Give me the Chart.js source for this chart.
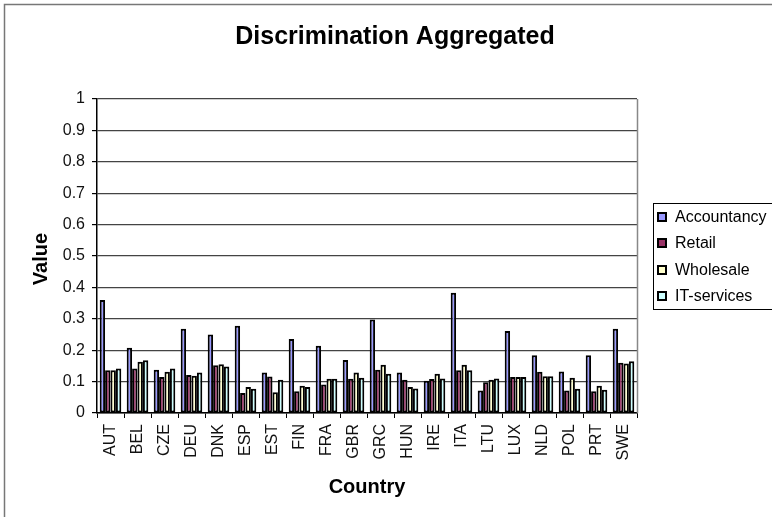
<!DOCTYPE html>
<html>
<head>
<meta charset="utf-8">
<script src="https://cdn.jsdelivr.net/npm/chart.js@4/dist/chart.umd.min.js"></script>
<style>
html,body{margin:0;padding:0;background:#fff;}
#wrap{width:772px;height:517px;position:relative;}
</style>
</head>
<body>
<div id="wrap"><canvas id="c" width="772" height="517"></canvas></div>
<script>
const categories = ["AUT","BEL","CZE","DEU","DNK","ESP","EST","FIN","FRA","GBR","GRC","HUN","IRE","ITA","LTU","LUX","NLD","POL","PRT","SWE"];
const accountancy = [0.360,0.208,0.138,0.268,0.250,0.278,0.129,0.236,0.214,0.169,0.298,0.129,0.103,0.383,0.072,0.261,0.184,0.132,0.184,0.268];
const retail      = [0.136,0.142,0.115,0.121,0.152,0.064,0.116,0.069,0.091,0.109,0.138,0.106,0.108,0.136,0.098,0.115,0.131,0.072,0.069,0.160];
const wholesale   = [0.136,0.163,0.131,0.119,0.155,0.083,0.066,0.087,0.109,0.129,0.154,0.083,0.125,0.154,0.106,0.115,0.117,0.112,0.087,0.158];
const itServices  = [0.142,0.168,0.142,0.129,0.148,0.077,0.106,0.083,0.109,0.112,0.125,0.078,0.110,0.136,0.110,0.115,0.117,0.077,0.074,0.165];
const seriesNames = ["Accountancy","Retail","Wholesale","IT-services"];
const seriesColors = ["#9999FF","#993366","#FFFFCC","#CCFFFF"];
const yTickLabels = ["0","0.1","0.2","0.3","0.4","0.5","0.6","0.7","0.8","0.9","1"];
const titleText = "Discrimination Aggregated";
const xTitle = "Country";
const yTitle = "Value";

const FONT = "'Liberation Sans', Arial, sans-serif";
const seriesData = [accountancy, retail, wholesale, itServices];

const decor = {
  id: 'decor',
  beforeDraw(chart) {
    const ctx = chart.ctx;
    ctx.save();
    ctx.fillStyle = '#fff';
    ctx.fillRect(0, 0, chart.width, chart.height);
    ctx.strokeStyle = '#777';
    ctx.lineWidth = 1.5;
    ctx.beginPath();
    ctx.moveTo(4.5, chart.height + 5);
    ctx.lineTo(4.5, 4.5);
    ctx.lineTo(chart.width + 5, 4.5);
    ctx.stroke();
    ctx.restore();
  },
  afterDraw(chart) {
    const ctx = chart.ctx;
    const a = chart.chartArea;
    ctx.save();
    ctx.strokeStyle = '#888';
    ctx.lineWidth = 1.5;
    ctx.beginPath();
    ctx.moveTo(a.right + 0.5, a.top);
    ctx.lineTo(a.right + 0.5, a.bottom);
    ctx.stroke();
    ctx.fillStyle = '#000';
    ctx.font = "bold 25px " + FONT;
    ctx.textAlign = 'center';
    ctx.textBaseline = 'alphabetic';
    ctx.fillText(titleText, 395, 44);
    ctx.font = "bold 20px " + FONT;
    ctx.fillText(xTitle, 367, 493);
    ctx.save();
    ctx.translate(47, 259);
    ctx.rotate(-Math.PI / 2);
    ctx.fillText(yTitle, 0, 0);
    ctx.restore();
    const lx = 653.5, ly = 203.5, lw = 140, lh = 106;
    ctx.strokeStyle = '#000';
    ctx.lineWidth = 1;
    ctx.strokeRect(lx, ly, lw, lh);
    const ys = [217, 243, 270, 296];
    ctx.font = "16px " + FONT;
    ctx.textAlign = 'left';
    ctx.textBaseline = 'middle';
    chart.data.datasets.forEach((ds, i) => {
      ctx.fillStyle = ds.backgroundColor;
      ctx.fillRect(658, ys[i] - 4, 8, 8);
      ctx.strokeStyle = '#000';
      ctx.lineWidth = 2;
      ctx.strokeRect(658, ys[i] - 4, 8, 8);
      ctx.fillStyle = '#000';
      ctx.fillText(ds.label, 675, ys[i] + 1);
    });
    ctx.restore();
  }
};

new Chart(document.getElementById('c'), {
  type: 'bar',
  data: {
    labels: categories,
    datasets: seriesNames.map((n, i) => ({
      label: n,
      data: seriesData[i],
      backgroundColor: seriesColors[i],
      borderColor: '#000',
      borderWidth: 2,
      borderSkipped: false,
      categoryPercentage: 0.8,
      barPercentage: 1.0
    }))
  },
  options: {
    responsive: false,
    animation: false,
    devicePixelRatio: 1,
    layout: { padding: { left: 0, right: 135, top: 99, bottom: 0 } },
    plugins: { legend: { display: false }, title: { display: false }, tooltip: { enabled: false } },
    scales: {
      x: {
        afterFit(s) { s.height = 104; },
        grid: { display: true, drawOnChartArea: false, offset: true, tickLength: 5, tickColor: '#000', tickWidth: 1 },
        border: { display: true, color: '#000', width: 1.5 },
        ticks: { minRotation: 90, maxRotation: 90, padding: 6, color: '#111', font: { family: FONT, size: 16 }, autoSkip: false }
      },
      y: {
        min: 0, max: 1,
        afterFit(s) { s.width = 97; },
        afterBuildTicks(s) { s.ticks = yTickLabels.map(t => ({ value: parseFloat(t) })); },
        grid: { color: '#444', lineWidth: 1.2, tickLength: 5, tickColor: '#000', drawTicks: true },
        border: { display: true, color: '#000', width: 1.5 },
        ticks: {
          padding: 7, color: '#111', font: { family: FONT, size: 16 },
          callback: (v, i) => yTickLabels[i]
        }
      }
    }
  },
  plugins: [decor]
});
</script>
</body>
</html>
